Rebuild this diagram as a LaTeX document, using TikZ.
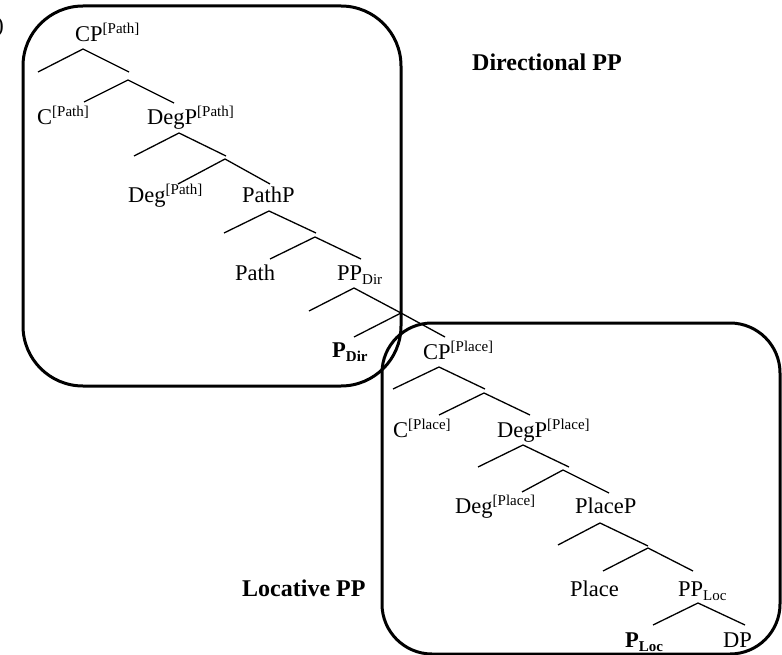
\documentclass[tikz,border=0pt]{standalone}
\usepackage{fontspec}
\setmainfont{Liberation Serif}
\newcommand{\supx}[1]{\raisebox{8pt}{\fontsize{15}{15}\selectfont #1}}
\newcommand{\subx}[1]{\raisebox{-4pt}{\fontsize{15}{15}\selectfont #1}}
\begin{document}
\begin{tikzpicture}[x=1pt,y=-1pt,
  lbl/.style={anchor=base west, inner sep=0pt, font=\fontsize{22.5}{24}\selectfont},
  title/.style={anchor=base west, inner sep=0pt, font=\fontsize{24}{26}\selectfont\bfseries},
  tl/.style={line width=1.3pt},
  framebox/.style={line width=3pt}]
\useasboundingbox (0,0) rectangle (782,655);

% frames
\draw[framebox, rounded corners=60pt] (23,6) rectangle (401,386);
\draw[framebox, rounded corners=50pt] (382,323) rectangle (780,654);

% partial label at edge
\node[lbl, anchor=base east] (paren) at (4,33) {)};

% titles
\node[title] (dirpp) at (472,71) {Directional PP};
\node[title] (locpp) at (242,596) {Locative PP};

% labels
\node[lbl] (cppath) at (75,42) {CP\supx{[Path]}};
\node[lbl] (cpath) at (37,125) {C\supx{[Path]}};
\node[lbl] (degppath) at (147,125) {DegP\supx{[Path]}};
\node[lbl] (degpath) at (128,203) {Deg\supx{[Path]}};
\node[lbl] (pathp) at (242,203) {PathP};
\node[lbl] (path) at (235,280) {Path};
\node[lbl] (ppdir) at (337,280) {PP\subx{Dir}};
\node[lbl] (pdir) at (332,357) {\textbf{P}\subx{\textbf{Dir}}};
\node[lbl] (cpplace) at (423,359) {CP\supx{[Place]}};
\node[lbl] (cplace) at (393,437) {C\supx{[Place]}};
\node[lbl] (degpplace) at (497,437) {DegP\supx{[Place]}};
\node[lbl] (degplace) at (455,513) {Deg\supx{[Place]}};
\node[lbl] (placep) at (575,513) {PlaceP};
\node[lbl] (place) at (570,596) {Place};
\node[lbl] (pploc) at (678,596) {PP\subx{Loc}};
\node[lbl] (ploc) at (625,647) {\textbf{P}\subx{\textbf{Loc}}};
\node[lbl] (dp) at (723,647) {DP};

% tree coordinates
\coordinate (a1) at (83,49);  \coordinate (s1) at (38,72);  \coordinate (e1) at (129,72);
\coordinate (b1) at (128,80); \coordinate (l1) at (84,102); \coordinate (r1) at (174,103);
\coordinate (a2) at (179,133); \coordinate (s2) at (134,156); \coordinate (e2) at (226,156);
\coordinate (b2) at (225,159); \coordinate (l2) at (178,184); \coordinate (r2) at (270,184);
\coordinate (a3) at (269,211); \coordinate (s3) at (224,233); \coordinate (e3) at (316,233);
\coordinate (b3) at (315,237); \coordinate (l3) at (270,259); \coordinate (r3) at (361,259);
\coordinate (a4) at (354,288); \coordinate (s4) at (309,311); \coordinate (e4) at (401,313);
\coordinate (b4) at (401,313); \coordinate (l4) at (354,337); \coordinate (r4) at (445,337);
\coordinate (a5) at (439,367); \coordinate (s5) at (393,389); \coordinate (e5) at (485,389);
\coordinate (b5) at (484,393); \coordinate (l5) at (439,415); \coordinate (r5) at (530,415);
\coordinate (a6) at (523,445); \coordinate (s6) at (478,467); \coordinate (e6) at (569,467);
\coordinate (b6) at (563,470); \coordinate (l6) at (522,492); \coordinate (r6) at (609,493);
\coordinate (a7) at (600,523); \coordinate (s7) at (558,545); \coordinate (e7) at (648,546);
\coordinate (b7) at (648,548); \coordinate (l7) at (603,571); \coordinate (r7) at (693,571);
\coordinate (a8) at (698,603); \coordinate (l8) at (653,625); \coordinate (r8) at (745,625);

\foreach \i in {1,...,7}{
  \draw[tl] (s\i) -- (a\i) -- (e\i);
  \draw[tl] (l\i) -- (b\i) -- (r\i);
}
\draw[tl] (l8) -- (a8) -- (r8);
\end{tikzpicture}
\end{document}
